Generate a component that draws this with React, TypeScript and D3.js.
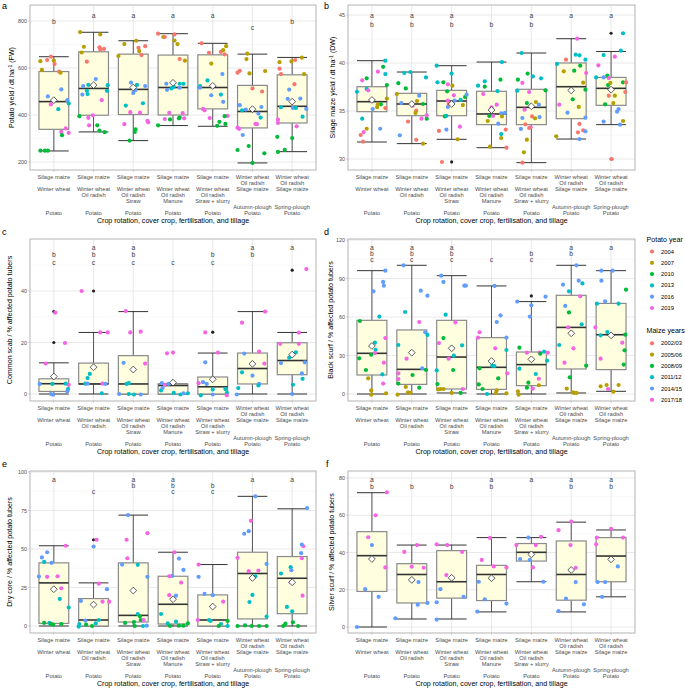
import React from "react";
import * as d3 from "d3";

const FONT = "'Liberation Sans', Arial, Helvetica, sans-serif";

const yearColors = ["#F8766D", "#B79F00", "#00BA38", "#00BFC4", "#619CFF", "#F564E3"];
const potatoYears = ["2004", "2007", "2010", "2013", "2016", "2019"];
const maizeYears = ["2002/03", "2005/06", "2008/09", "2011/12", "2014/15", "2017/18"];

const catLines = [
  ["Silage maize", "", "Winter wheat", "", "", "", "Potato"],
  ["Silage maize", "", "Winter wheat", "Oil radish", "", "", "Potato"],
  ["Silage maize", "", "Winter wheat", "Oil radish", "Straw", "", "Potato"],
  ["Silage maize", "", "Winter wheat", "Oil radish", "Manure", "", "Potato"],
  ["Silage maize", "", "Winter wheat", "Oil radish", "Straw + slurry", "", "Potato"],
  ["Winter wheat", "Oil radish", "Silage maize", "", "", "Autumn-plough", "Potato"],
  ["Winter wheat", "Oil radish", "Silage maize", "", "", "Spring-plough", "Potato"],
];
const xTitle = "Crop rotation, cover crop, fertilisation, and tillage";

// box stats: [lower whisker, q1, median, q3, upper whisker, mean]
const statsA = [[247,339,457,585,648,463],[328,399,513,669,752,527],[291,402,509,659,716,517],[355,400,517,655,746,537],[352,426,517,656,705,524],[196,345,415,526,659,425],[244,366,437,571,645,457]];
const statsB = [[31.77,34.93,35.97,37.53,40.24,36.15],[31.6,34.51,35.73,36.84,39.06,35.73],[32.05,34.51,36.04,37.15,39.72,35.73],[31.18,33.58,34.69,37.05,40.1,35.1],[29.62,33.58,35.38,37.26,41.04,35.49],[32.08,34.2,37.53,40.0,42.53,37.15],[33.58,35.59,37.36,38.5,41.2,37.22]];
const statsC = [[0,1.0,4.0,5.9,12.1,6.8],[0,3.9,3.9,12.0,23.9,10.4],[0,0,3.9,14.9,32.0,9.5],[0,0,3.3,3.9,3.9,4.4],[0,0,2.8,6.6,15.9,5.7],[0,3.9,9.9,15.9,32.0,11.7],[0,7.5,13.0,19.9,23.9,15.3]];
const statsD = [[0,14.8,31.7,57.4,96.1,37.4],[0,7.5,19.2,49.9,100.3,32.2],[0.8,3.9,28.8,57.4,92.2,35.6],[0,3.6,20.8,43.9,84.2,25.7],[0,6.5,22.9,32.7,72,27],[0.8,19.5,51.9,76.9,100.3,47.3],[2.1,19,46.2,70.6,96.1,45.7]];
const statsE = [[0,1.7,28,41,52.1,23.9],[0,0,3.9,17.8,28,13.9],[0,2.6,6.9,41,72,23],[0,1.3,14.1,32.3,47.9,17.4],[0,0,3.9,20.2,39.9,12.6],[0,4.6,34.1,47.9,84.2,31.2],[0,8,31,45.1,76.1,28.4]];
const statsF = [[0,19.1,38.3,51.2,72.1,36.5],[4.3,12.9,28.2,34,44,25.3],[4.3,15.5,24.3,41,44,26.4],[8.1,14.2,28.2,33.1,48,26.2],[24.3,35.4,40.1,44.8,48,39],[8.1,14.4,28.2,46.2,56.3,30.6],[16.2,24.3,38.1,48,52.1,36.3]];

// outliers per category
const outA = [[],[],[],[],[],[],[]];
const outB = [[],[],[29.7],[],[],[],[43.1,30.0]];
const outC = [[32,20],[40],[],[],[24],[],[48.1]];
const outD = [[],[],[],[],[76.4],[],[]];
const outE = [[],[56],[],[],[],[],[]];
const outF = [[],[],[],[],[],[],[]];

// points per category: [value, year index, jitter (-1..1 of half box)]
const ptsA = [
  [[629,1,-0.9],[592,1,-0.8],[634,0,-0.45],[648,0,-0.2],[631,1,0],[617,0,0.05],[585,0,0.35],[580,1,0.45],[479,4,-0.4],[445,5,-0.2],[509,4,0.5],[425,3,0.3],[463,4,0.9],[449,3,1],[343,5,0.8],[328,5,0.5],[324,5,1],[314,2,0.55],[248,2,-0.9],[248,2,-0.6],[248,2,-0.4]],
  [[753,1,-0.9],[690,1,-0.65],[666,1,-0.8],[627,0,-0.45],[743,1,0.45],[688,0,0.4],[679,0,0.45],[681,0,0.7],[523,4,-0.7],[528,3,-0.35],[553,4,0.15],[503,3,-0.45],[489,3,-0.4],[487,4,-0.75],[527,3,0.95],[503,3,0.9],[463,5,0.55],[388,5,-0.35],[356,5,-0.3],[399,5,-0.05],[395,2,-0.95],[356,2,0.25],[334,2,0.4],[327,2,0.75]],
  [[651,1,-1],[702,1,-0.6],[716,1,0.2],[686,0,0.35],[672,1,0.4],[655,0,0.55],[693,0,0.8],[538,4,-0.15],[517,3,0],[506,4,0.15],[528,3,0.25],[523,4,0.8],[440,3,-0.5],[450,3,0.65],[494,4,0],[361,5,-0.6],[412,5,-0.2],[410,5,0.45],[375,5,0.95],[369,5,1],[291,2,-0.25],[339,2,0.15],[328,2,0.1]],
  [[746,0,-1],[732,1,-0.65],[732,0,-0.55],[743,0,0.1],[717,1,0.1],[702,1,0.3],[638,0,0.45],[631,1,0.8],[533,4,-0.45],[507,4,-0.4],[513,3,-0.1],[520,3,0.05],[533,3,0.45],[516,4,0.45],[533,3,0.7],[383,5,-0.55],[409,5,-0.25],[408,5,0.65],[386,5,0.75],[356,2,-1],[381,2,-0.2],[386,2,0.4],[389,2,0.45]],
  [[705,0,-0.75],[665,0,-0.25],[619,1,-0.1],[669,0,0.55],[676,1,0.7],[658,0,0.8],[693,1,0.9],[523,3,-0.85],[516,4,-0.85],[547,3,-0.35],[484,4,-0.1],[487,3,0.55],[574,4,0.65],[456,4,0.7],[426,5,-0.65],[420,5,-0.55],[387,5,-0.2],[396,5,1],[354,2,0.3],[371,2,0.45],[395,2,0.8],[362,2,0.85]],
  [[661,1,-0.35],[638,1,-0.4],[577,1,-0.2],[587,1,0.85],[580,0,-1],[588,0,-0.85],[513,0,0],[500,0,0.65],[442,4,-0.85],[423,4,-0.45],[420,3,-0.7],[406,4,0.4],[389,3,0.55],[434,4,0.6],[346,5,-1],[341,5,-0.9],[362,5,0.2],[361,5,0.3],[315,4,-0.65],[251,2,-1],[268,2,-0.25],[196,2,0],[237,2,0.8]],
  [[625,1,-0.85],[597,0,-0.85],[574,0,-0.75],[628,1,-0.05],[634,0,0.2],[644,1,0.65],[574,1,0.8],[469,4,-0.3],[508,4,-0.2],[531,0,0.15],[433,3,-0.75],[430,4,0.05],[430,3,0.25],[470,4,0.55],[426,4,0.95],[393,3,0.7],[380,5,-0.95],[366,5,-0.95],[352,5,0.3],[307,2,-1],[252,2,-0.5],[243,2,-0.95],[302,2,0]],
];
const ptsB = [
  [[37.0,3,-1],[38.2,5,-0.65],[38.4,2,-0.35],[37.3,3,-0.35],[37.15,5,-0.25],[34.2,3,-0.65],[32.8,5,-0.55],[33.15,1,-0.35],[32.5,0,-0.75],[31.8,0,-0.6],[35.2,4,0.05],[33.15,4,0.55],[39.1,5,0.4],[40.24,3,0.9],[39.6,2,0.75],[38.85,3,0.9],[37.7,2,1],[35.7,2,0.6],[36.3,1,1],[35.7,1,0.4],[35.4,1,0.35],[35.3,0,0.9]],
  [[36.77,1,-1],[37.9,2,-0.9],[37.35,2,-0.4],[38.96,3,-0.5],[39.06,3,-0.1],[35.83,4,-0.7],[32.47,4,-0.8],[33.9,0,-0.25],[35.73,4,0],[35.55,5,0.05],[36.04,1,0.35],[35.03,0,0.3],[34.8,1,0.25],[36.6,4,0.5],[35.73,2,0.75],[38.5,3,0.95],[34.2,5,0.65],[34.2,2,1],[34.55,5,1],[32.0,0,0.3],[31.6,1,0.75]],
  [[39.72,3,-1],[37.99,3,-0.95],[37.99,2,-0.55],[37.78,5,-0.25],[37.05,2,-0.3],[38.9,3,0],[37.64,1,0.05],[34.44,2,-0.45],[34.5,3,-0.35],[36.08,5,-0.25],[35.42,4,-0.25],[35.73,0,-0.2],[36.63,5,0.15],[36.08,4,0.2],[35.62,1,0.75],[36.15,3,0.6],[36.46,2,0.9],[36.7,4,1],[33.37,5,0.55],[33.06,4,-0.35],[32.92,0,-0.85],[32.05,1,0.4],[29.69,0,-0.65]],
  [[37.64,3,-0.9],[38.09,3,-0.45],[37.53,2,-0.45],[36.77,5,-0.55],[35.38,5,0],[34.48,2,-0.15],[33.96,1,-0.25],[31.28,1,-0.1],[35.66,5,0.35],[37.08,3,0.4],[38.26,2,0.6],[40.1,3,0.7],[34.76,4,0.65],[34.8,4,0.9],[34.48,5,0.1],[34.44,1,0.7],[33.68,4,0.45],[32.19,1,0.65],[33.06,0,0.95],[32.6,3,0.65],[31.18,0,1]],
  [[41.04,3,-0.65],[38.26,2,-0.9],[37.12,3,-0.95],[38.9,2,-0.25],[37.92,5,-0.6],[35.83,2,-0.3],[35.14,5,-0.45],[34.27,4,-0.6],[33.61,0,-0.4],[33.3,5,-0.05],[33.23,0,-0.15],[38.6,3,0.1],[38.4,3,0.65],[36.98,5,-0.15],[37.15,2,0.95],[35.94,1,0.3],[35.66,4,0.5],[34.37,4,0.55],[34.44,0,0.05],[34.24,1,0.25],[33.13,4,-0.7],[32.01,1,-0.3],[30.7,1,-0.5],[29.62,0,-0.6]],
  [[39.9,3,-0.95],[40.35,0,-0.35],[39.13,1,-0.5],[39.2,2,0.2],[42.53,5,0.4],[40.87,3,0.3],[40.8,3,0.55],[40.35,3,0.95],[38.96,5,1],[39.72,2,0.6],[37.95,1,0.8],[37.22,2,0.95],[35.66,5,-0.8],[36.22,2,0.1],[34.83,4,-0.25],[35.42,1,0.5],[34.3,4,0.95],[33.65,0,0.55],[32.78,0,0.45],[32.99,0,0.8],[32.88,4,0.95],[32.36,1,-1],[32.08,4,0.55]],
  [[39.76,5,-0.85],[40.83,3,-0.5],[38.5,3,-1],[38.5,4,-0.5],[38.7,2,-0.25],[38.44,5,-0.15],[37.7,2,-0.2],[37.92,1,-0.05],[36.6,0,-0.15],[36.6,1,0.25],[35.83,1,0.15],[35.7,2,-0.4],[40.66,5,0.25],[43.1,3,0.8],[41.28,3,0.65],[37.99,2,0.8],[37.99,0,1],[36.98,0,0.95],[34.93,4,0.4],[35.2,4,0.5],[33.9,4,-0.5],[33.58,4,0.6],[33.96,1,0.8],[30.0,0,0.05]],
];
const ptsC = [
  [[11.8,5,-0.55],[31.6,5,0.1],[19.8,5,0.75],[3.9,4,-0.95],[3.9,3,-0.1],[0,4,-0.2],[-0.3,4,-0.05],[4.0,3,0.8],[3.6,5,1],[1.9,3,0.95],[1.0,4,0.9]],
  [[40,5,-0.8],[23.9,5,0.45],[23.9,5,0.95],[7.8,3,-0.25],[6.2,3,-0.4],[4.0,3,-0.55],[4.0,4,-0.4],[4.0,5,0.6],[3.9,4,0.8],[0.3,3,0.55]],
  [[32.2,5,-0.5],[23.9,5,-0.2],[24.2,5,0.5],[12.1,4,-0.65],[11.8,5,0.8],[3.9,3,-0.45],[4.2,3,-0.3],[0,4,-0.95],[0,3,-0.3],[-0.2,3,0.05],[-0.2,4,0.5]],
  [[15.8,5,-0.4],[16.1,5,0],[4.2,4,-0.75],[3.6,5,-0.55],[1.4,3,-0.8],[2.3,4,-0.7],[3.9,4,-0.3],[0.4,3,0.05],[-0.2,3,0.5],[0.3,4,0.7],[0.3,3,1]],
  [[23.9,5,-0.5],[16.1,5,0.35],[12.3,4,-0.5],[4.2,5,-0.95],[4.6,4,-0.65],[3.9,4,-0.4],[1.7,3,0],[1.9,3,0.85],[0.4,3,0.95],[-0.5,3,-0.8],[-0.2,4,0],[-0.5,5,0.95]],
  [[27.7,5,-0.7],[32.0,5,0.85],[15.7,4,-0.55],[16.5,5,0.45],[11.8,5,0.8],[8.4,3,-0.7],[7.1,4,0],[3.9,4,0.45],[3.3,3,0.4],[2.3,3,-0.95],[-0.2,4,-1.05]],
  [[48.5,5,0.95],[19.5,5,-0.8],[23.8,5,0.45],[19.5,5,0.45],[12.0,4,-0.75],[12.3,4,0.85],[14.1,3,-0.2],[16.2,3,0.25],[8.0,4,0.65],[5.9,3,0.7],[3.6,3,0.05],[0,4,0]],
];
const ptsD = [
  [[96.1,4,0.9],[87.3,4,0.75],[84.4,4,0.8],[80,4,0.1],[60.3,3,0.5],[56.9,2,-0.8],[43.6,5,0.9],[40,3,0.2],[34.5,3,0.25],[30.6,2,-0.05],[31.9,5,0.2],[27.8,2,-0.85],[24.4,5,0.8],[18.7,2,-0.4],[15.3,3,0.7],[12.2,1,-0.25],[8.1,5,0.75],[2.9,1,-0.05],[-0.5,1,-0.05],[0.5,1,0.95]],
  [[100.3,4,-0.55],[80.5,4,0.6],[76.6,4,1.05],[63.9,3,-0.45],[56.1,5,0.5],[48.1,4,0.9],[46,3,1.05],[38.2,3,-0.9],[27.5,5,-0.35],[20,4,0.7],[18.7,2,0.95],[16.1,5,-0.9],[11.7,5,-0.9],[14.8,2,0.05],[4.9,2,0.5],[8.1,2,-0.9],[5.5,1,-0.4],[1.3,1,-0.25],[0.8,1,-0.1],[-0.5,1,-0.95]],
  [[92.2,4,-0.7],[87.3,4,-0.55],[84.4,4,0.85],[84.4,4,0.95],[61.8,3,-0.4],[55.8,5,0.25],[43.6,2,-0.55],[39.7,5,-0.85],[37.9,3,0.7],[29.9,3,0.15],[27.5,5,-0.2],[18.7,2,0.1],[18.4,3,-1],[3.9,5,0.75],[7.8,2,-0.95],[3.6,1,-0.9],[3.9,1,-0.75],[3.9,1,-0.55],[0.8,1,0],[0.8,2,0.6]],
  [[84.2,4,0.2],[61.3,4,0.6],[56.1,4,0.35],[48.1,5,-0.8],[43.9,5,-0.9],[43.9,4,1],[35.6,5,0.25],[34.3,3,1],[22.1,3,0.05],[21.8,3,0.2],[20,2,-0.8],[16.1,5,1.05],[12.2,2,0.45],[7.5,2,-0.85],[3.9,2,-0.6],[2.9,1,0.35],[0.8,1,0.3],[0.5,1,1],[0,3,-0.3]],
  [[75.8,4,0.95],[72,4,-0.95],[69.1,4,0],[60.3,4,-0.1],[32.2,5,-0.3],[32.2,5,0.55],[32.2,5,1.1],[31.4,2,0.6],[33,3,0.85],[26,3,1.05],[19.7,3,-0.8],[15.6,3,0.3],[11.9,5,0.5],[8.8,2,-0.2],[4.9,2,-0.3],[4.2,5,0.1],[6.8,1,0.5],[2.1,1,-0.9],[-0.5,1,-0.85],[36.1,2,-0.8]],
  [[100.3,4,0.35],[85.2,4,-0.55],[88.3,4,0.5],[86.2,3,0.75],[80,3,-0.15],[68.6,4,-0.4],[76.1,5,0.6],[63.6,2,-0.15],[54.3,3,0.7],[51.9,5,-0.2],[38.2,3,-0.8],[35.6,5,0.15],[24.4,5,-0.45],[22.1,2,1],[13,2,-0.1],[4.2,1,-0.3],[1.3,1,0.1],[0.8,1,0.2],[0.8,1,0.35]],
  [[96.1,4,-0.65],[96.1,4,0.1],[88.3,4,-0.65],[72.2,4,-0.4],[81.3,2,1],[70.4,3,-0.95],[70.4,3,0.5],[51.9,5,-1.05],[48.3,3,-0.25],[45.7,3,-0.7],[46.2,2,0.95],[40,5,0.75],[34,2,0.9],[27.5,5,-0.7],[22.9,2,0.85],[6,1,-0.7],[7,1,-0.3],[7,1,0.5],[3.9,5,-0.2],[1.8,1,0.15]],
];
const ptsE = [
  [[52.1,5,0.8],[47.9,4,-0.45],[44.5,4,-0.8],[41.6,3,-0.65],[41,4,-0.15],[32.1,4,-1],[31.9,5,-0.45],[32.3,5,0.25],[24.5,5,0.5],[17.6,3,0.4],[12,3,1],[2,2,-0.65],[2,3,-0.3],[1.3,2,-0.2],[0.9,2,-0.05],[1.3,2,0.5]],
  [[56,5,0.2],[51.6,4,0],[27.5,5,0.35],[23.9,4,0.9],[16.3,4,-0.85],[15.8,5,0.6],[15.8,5,1.05],[3.5,4,-0.55],[3.9,3,0.35],[1.7,3,0.15],[0.9,2,-0.5],[1.3,3,-0.95],[0,2,-0.1],[-0.4,3,-1]],
  [[72,4,-0.35],[60.3,5,0.95],[56,5,-0.45],[44,5,-0.4],[39.9,4,-0.75],[39.7,3,0.3],[31.9,4,0.95],[7.8,3,0.3],[6.3,2,0.45],[3.9,2,0.5],[3.9,5,0.7],[2.6,2,0.05],[2,2,-0.55],[0,3,0.65],[0.2,4,0.9],[0,2,0.1]],
  [[47.9,5,0.1],[43.8,4,0.4],[36.4,4,0.7],[32.5,4,-0.05],[32.3,5,-0.25],[28.2,5,0.55],[20,5,-0.25],[19.7,4,0.2],[7.8,3,-0.8],[1.7,3,-0.35],[2.8,3,0.2],[0,2,-0.2],[0.2,2,0.4],[0.2,2,0.7],[1.7,2,1]],
  [[39.9,5,-0.95],[31.9,4,-0.95],[20.8,4,-0.55],[20,4,0],[15.8,5,0.7],[3.9,5,-1],[3.9,3,-0.25],[3.3,3,-0.15],[1.3,3,0.55],[0,2,0.4],[0,3,1],[3.3,2,1]],
  [[84.2,4,0.2],[68.3,5,-0.1],[61.6,4,-0.25],[59.9,4,-0.55],[44.3,5,-1],[40.3,4,0.95],[35.6,5,-0.25],[36,5,0.4],[32.3,3,0.2],[20.2,3,0],[15.6,3,-0.2],[6.1,3,0.95],[0,2,-1],[0.4,2,-0.5],[0,2,-0.05],[0,2,0.45],[0,2,0.95]],
  [[76.6,4,1],[47.3,4,0.6],[51.8,5,0.75],[52.9,4,0.65],[44,5,0.65],[38.2,3,-0.1],[36.2,4,-0.05],[34.1,3,-0.75],[28.4,5,-0.1],[19.7,5,0.7],[12.4,3,-0.35],[9.5,3,0],[2.4,2,0.05],[1.5,2,-0.45],[0,2,-0.6],[0,2,0.4]],
];
const ptsF = [
  [[72.3,5,1],[60,5,0.25],[48.2,5,-0.25],[44,4,0],[32,5,0.9],[20.3,4,-0.45],[16.2,4,0.45],[0,4,-1]],
  [[44,5,0.35],[40.3,5,-0.5],[32.4,5,0],[31.8,5,0.8],[24.1,4,0.45],[12,4,0.4],[12.9,4,1.05],[4.7,4,-1.1]],
  [[44.4,5,-1],[44,5,-0.3],[40.3,5,0.7],[27.9,5,-0.35],[20.3,4,-0.75],[16.2,4,0.8],[13.3,4,-1],[4,4,-1]],
  [[47.8,5,-0.1],[36,5,-0.65],[32.5,5,0.15],[32,5,1],[24.3,4,-0.85],[14.9,4,-0.45],[12.6,4,1],[8.3,4,-0.95]],
  [[48,4,-0.2],[48.4,5,0.65],[44,5,-1],[44,5,0.3],[36.5,4,-0.75],[36,4,-0.1],[32,5,0.1],[24.3,4,0.8]],
  [[56.6,5,0],[52,5,-0.85],[44,5,-0.05],[31.8,5,0.3],[24.1,4,0.3],[15.3,4,-0.35],[12.2,4,0.85],[8.6,4,-0.85]],
  [[52.7,5,0],[48,5,-0.95],[48,5,0.8],[44.4,5,-1],[32.5,4,0.45],[24.1,4,-0.9],[24.1,4,-0.4],[16.2,4,-0.6]],
];

const lettersA = ["b", "a", "a", "a", "a", "c", "b"];
const lettersB = ["ab", "ab", "ab", "b", "ab", "a", "a"];
const lettersC = ["bc", "abc", "abc", "c", "bc", "ab", "a"];
const lettersD = ["abc", "abc", "abc", "c", "bc", "ab", "a"];
const lettersE = ["a", "c", "ab", "abc", "bc", "a", "a"];
const lettersF = ["ab", "b", "b", "ab", "a", "ab", "ab"];

const ticksA = [200, 400, 600, 800];
const ticksB = [30, 35, 40, 45];
const ticksC = [0, 20, 40];
const ticksD = [0, 30, 60, 90, 120];
const ticksE = [0, 25, 50, 75, 100];
const ticksF = [0, 20, 40, 60, 80];

const panels = [
  { tag: "a", title: ["Potato yield / dt ha", "-1", " (FW)"], stats: statsA, pts: ptsA, out: outA, letters: lettersA, ticks: ticksA,
    x0: 30, x1: 316, y0: 5, y1: 170, yr: [162, 21], letTop: 15, letStep: 6, tagPos: [2, 9], titleX: 12 },
  { tag: "b", title: ["Silage maize yield / dt ha", "-1", " (DW)"], stats: statsB, pts: ptsB, out: outB, letters: lettersB, ticks: ticksB,
    x0: 348, x1: 635, y0: 5, y1: 170, yr: [159, 15], letTop: 15.3, letStep: 9.4, tagPos: [324, 9], titleX: 333 },
  { tag: "c", title: ["Common scab / % affected potato tubers"], stats: statsC, pts: ptsC, out: outC, letters: lettersC, ticks: ticksC,
    x0: 30, x1: 316, y0: 239, y1: 401, yr: [394, 291], letTop: 247.3, letStep: 7.5, tagPos: [2, 235], titleX: 10 },
  { tag: "d", title: ["Black scurf / % affected potato tubers"], stats: statsD, pts: ptsD, out: outD, letters: lettersD, ticks: ticksD,
    x0: 348, x1: 635, y0: 239, y1: 401, yr: [394, 240], letTop: 247, letStep: 6, tagPos: [324, 235], titleX: 331 },
  { tag: "e", title: ["Dry core / % affected potato tubers"], stats: statsE, pts: ptsE, out: outE, letters: lettersE, ticks: ticksE,
    x0: 30, x1: 316, y0: 471, y1: 633, yr: [626, 472], letTop: 479, letStep: 6, tagPos: [2, 467], titleX: 10 },
  { tag: "f", title: ["Silver scurf / % affected potato tubers"], stats: statsF, pts: ptsF, out: outF, letters: lettersF, ticks: ticksF,
    x0: 348, x1: 635, y0: 471, y1: 633, yr: [627, 478], letTop: 479, letStep: 7, tagPos: [326, 467], titleX: 332 },
];

function Panel({ p }: { p: any }) {
  const x = d3.scalePoint<number>().domain(d3.range(7)).range([p.x0, p.x1]).padding(0.6);
  const y = d3.scaleLinear().domain([p.ticks[0], p.ticks[p.ticks.length - 1]]).range(p.yr);
  const hw = (x.step() * 0.75) / 2;
  const tStep = p.ticks[1] - p.ticks[0];
  const lo = y.invert(p.y1), hi = y.invert(p.y0);
  const minor: number[] = [];
  for (let v = p.ticks[0] - tStep / 2; v <= hi; v += tStep) if (v >= lo && v <= hi) minor.push(v);
  const cy = (p.y0 + p.y1) / 2;
  const cxm = (p.x0 + p.x1) / 2;
  const labTop = p.y1 + 6.5;
  return (
    <g>
      <text x={p.tagPos[0]} y={p.tagPos[1]} fontSize={9} fontFamily={FONT} fill="#000">{p.tag}</text>
      <rect x={p.x0} y={p.y0} width={p.x1 - p.x0} height={p.y1 - p.y0} fill="#fff" />
      {minor.map((v, i) => (
        <line key={"mi" + i} x1={p.x0} x2={p.x1} y1={y(v)} y2={y(v)} stroke="#efefef" strokeWidth={0.4} />
      ))}
      {p.ticks.map((v: number, i: number) => (
        <line key={"ma" + i} x1={p.x0} x2={p.x1} y1={y(v)} y2={y(v)} stroke="#e0e0e0" strokeWidth={0.7} />
      ))}
      {d3.range(7).map((i) => (
        <line key={"vx" + i} x1={x(i)} x2={x(i)} y1={p.y0} y2={p.y1} stroke="#e0e0e0" strokeWidth={0.7} />
      ))}
      {p.stats.map((s: number[], i: number) => {
        const cx = x(i)!;
        return (
          <g key={"bx" + i}>
            <line x1={cx} x2={cx} y1={y(s[4])} y2={y(s[3])} stroke="#555" strokeWidth={1} />
            <line x1={cx} x2={cx} y1={y(s[1])} y2={y(s[0])} stroke="#555" strokeWidth={1} />
            <line x1={cx - hw} x2={cx + hw} y1={y(s[4])} y2={y(s[4])} stroke="#333" strokeWidth={1} />
            <line x1={cx - hw} x2={cx + hw} y1={y(s[0])} y2={y(s[0])} stroke="#333" strokeWidth={1} />
            <rect x={cx - hw} y={y(s[3])} width={hw * 2} height={Math.max(0.5, y(s[1]) - y(s[3]))}
              fill="#FFFFE0" stroke="#8a8a8a" strokeWidth={1.2} />
            <line x1={cx - hw} x2={cx + hw} y1={y(s[2])} y2={y(s[2])} stroke="#333" strokeWidth={1.6} />
            {p.out[i].map((v: number, j: number) => (
              <circle key={"o" + j} cx={cx} cy={y(v)} r={1.6} fill="#222" />
            ))}
          </g>
        );
      })}
      {p.pts.map((arr: number[][], i: number) =>
        arr.map((d, j) => (
          <circle key={"p" + i + "_" + j} cx={x(i)! + d[2] * hw} cy={y(d[0])} r={2.1} fill={yearColors[d[1]]} />
        ))
      )}
      {p.stats.map((s: number[], i: number) => {
        const cx = x(i)!, my = y(s[5]), r = 3.4;
        return (
          <path key={"mn" + i} d={`M${cx},${my - r}L${cx + r},${my}L${cx},${my + r}L${cx - r},${my}Z`}
            fill="#fff" stroke="#333" strokeWidth={0.8} />
        );
      })}
      {p.letters.map((str: string, i: number) =>
        str.split("").map((ch) => (
          <text key={"l" + i + ch} x={x(i)} y={p.letTop + "abc".indexOf(ch) * p.letStep}
            fontSize={6.8} fontFamily={FONT} fill="#444" textAnchor="middle" dominantBaseline="central">{ch}</text>
        ))
      )}
      <rect x={p.x0} y={p.y0} width={p.x1 - p.x0} height={p.y1 - p.y0} fill="none" stroke="#b3b3b3" strokeWidth={1} />
      {p.ticks.map((v: number, i: number) => (
        <g key={"yt" + i}>
          <line x1={p.x0 - 2} x2={p.x0} y1={y(v)} y2={y(v)} stroke="#b3b3b3" strokeWidth={0.6} />
          <text x={p.x0 - 3} y={y(v)} fontSize={5.4} fontFamily={FONT} fill="#4d4d4d" textAnchor="end" dominantBaseline="central">{v}</text>
        </g>
      ))}
      <text transform={`translate(${p.titleX},${cy}) rotate(-90)`} fontSize={7.1} fontFamily={FONT} fill="#000" textAnchor="middle" dominantBaseline="central">
        <tspan>{p.title[0]}</tspan>
        {p.title.length > 1 && <tspan dy={-2.5} fontSize={5}>{p.title[1]}</tspan>}
        {p.title.length > 1 && <tspan dy={2.5}>{p.title[2]}</tspan>}
      </text>
      {d3.range(7).map((i) => (
        <g key={"xt" + i}>
          <line x1={x(i)} x2={x(i)} y1={p.y1} y2={p.y1 + 2} stroke="#b3b3b3" strokeWidth={0.6} />
          {catLines[i].map((t, k) =>
            t ? (
              <text key={k} x={x(i)} y={labTop + k * 6.1} fontSize={5.7} fontFamily={FONT} fill="#4d4d4d" textAnchor="middle" dominantBaseline="central">{t}</text>
            ) : null
          )}
        </g>
      ))}
      <text x={cxm} y={labTop + 6 * 6.1 + 8.3} fontSize={7.1} fontFamily={FONT} fill="#000" textAnchor="middle" dominantBaseline="central">{xTitle}</text>
    </g>
  );
}

function Legend() {
  const groups = [
    { title: "Potato year", labels: potatoYears, top: 240, itemTop: 251.5 },
    { title: "Maize years", labels: maizeYears, top: 331, itemTop: 343.3 },
  ];
  return (
    <g>
      {groups.map((g, gi) => (
        <g key={gi}>
          <text x={646.5} y={g.top} fontSize={7.1} fontFamily={FONT} fill="#000" dominantBaseline="central">{g.title}</text>
          {g.labels.map((l, i) => (
            <g key={l}>
              <circle cx={652} cy={g.itemTop + i * 11.3} r={2.1} fill={yearColors[i]} />
              <text x={661} y={g.itemTop + i * 11.3} fontSize={5.8} fontFamily={FONT} fill="#000" dominantBaseline="central">{l}</text>
            </g>
          ))}
        </g>
      ))}
    </g>
  );
}

export default function App() {
  return (
    <svg width={685} height={688} style={{ position: "absolute", left: 0, top: 0, background: "#fff" }}>
      <rect width={685} height={688} fill="#fff" />
      {panels.map((p) => (
        <Panel key={p.tag} p={p} />
      ))}
      <Legend />
    </svg>
  );
}
